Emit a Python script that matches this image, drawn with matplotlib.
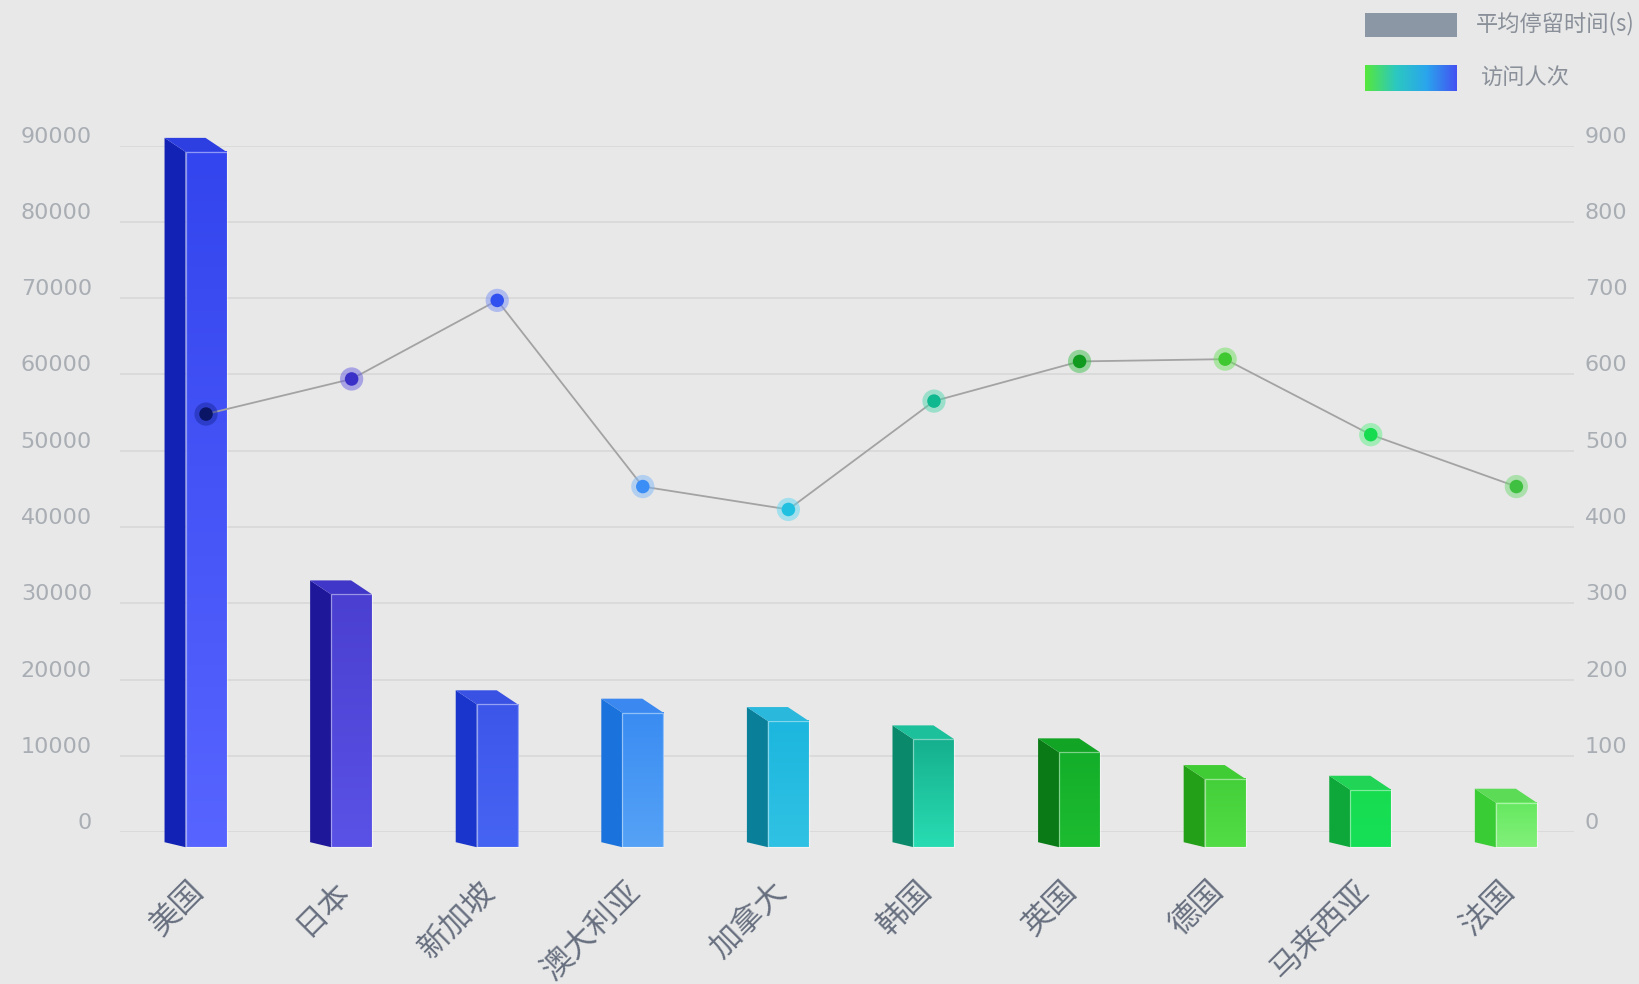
import matplotlib
matplotlib.use('Agg')
import matplotlib.pyplot as plt
import matplotlib.transforms as mtransforms
import numpy as np
from matplotlib.colors import to_rgb, LinearSegmentedColormap
from matplotlib.patches import Polygon, Rectangle

plt.rcParams['font.family'] = ['Noto Sans CJK SC', 'DejaVu Sans']

# data
countries = ['美国', '日本', '新加坡', '澳大利亚', '加拿大', '韩国', '英国', '德国', '马来西亚', '法国']
visits = [91000, 33000, 18600, 17500, 16400, 14000, 12300, 8800, 7400, 5700]
stay_time = [548, 594, 697, 453, 423, 565, 617, 620, 521, 453]
left_ticks = list(range(0, 90001, 10000))
right_ticks = list(range(0, 901, 100))

# per-bar colours
front_top = ['#3345ee', '#4a3fd0', '#3d56ea', '#3a8cf2', '#1cb6de',
             '#16b08e', '#14ae2a', '#44d03a', '#18dc50', '#66e860']
front_bottom = ['#5764ff', '#5a52e6', '#4664f4', '#55a2f6', '#30c2e4',
                '#28dcb2', '#1cbc30', '#52dc46', '#16e058', '#82f07a']
side_colors = ['#1222b4', '#1f1799', '#1a35cc', '#1a72dc', '#0a7f9a',
               '#0a8a6a', '#0a7a16', '#24a018', '#0ea83a', '#3acc34']
cap_colors = ['#2e3fe2', '#4036c8', '#3a52e4', '#3a88f0', '#2ab8dc',
              '#1cc09a', '#12a424', '#40cc34', '#22d456', '#5cdc56']
dot_colors = ['#0a1565', '#3a30c8', '#3050f0', '#3a8ef5', '#20c0e0',
              '#10b890', '#109a20', '#40c830', '#18dc50', '#40c040']
halo_colors = ['#1a2aa0', '#6a60e0', '#7a90f5', '#80b8f8', '#60d8f0',
               '#50d8b0', '#40c050', '#70e060', '#60ee88', '#70d870']

W, H = 1640, 984
BG = '#e8e8e8'
fig = plt.figure(figsize=(W / 100, H / 100), dpi=100, facecolor=BG)

# axes area in pixels: x 120..1574, y(top) 145.5..832.2
ax_l, ax_r, ax_t, ax_b = 120, 1574, 145.5, 832.2
ax = fig.add_axes([ax_l / W, 1 - ax_b / H, (ax_r - ax_l) / W, (ax_b - ax_t) / H])
ax.set_facecolor('none')
for s in ax.spines.values():
    s.set_visible(False)

x = np.arange(len(countries))
xlim = (-0.591, 9.396)
ylim = (0, 90000)
ax.set_xlim(*xlim)
ax.set_ylim(*ylim)
ax.set_yticks(left_ticks)
ax.set_xticks([])
ax.tick_params(axis='y', length=0, labelleft=False)
ax.grid(axis='y', color='#d6d6d6', linewidth=1.1)
ax.set_axisbelow(True)

# pixel -> data conversions
px_x = (xlim[1] - xlim[0]) / (ax_r - ax_l)
px_y = (ylim[1] - ylim[0]) / (ax_b - ax_t)
bar_w = 41 * px_x
depth_x = 21 * px_x
depth_y = 14 * px_y
front_base = -15 * px_y
back_base = -10 * px_y

for i, v in enumerate(visits):
    xl = x[i] - bar_w / 2
    xr = x[i] + bar_w / 2
    side = Polygon([(xl - depth_x, back_base), (xl - depth_x, v),
                    (xl, v - depth_y), (xl, front_base)],
                   closed=True, facecolor=side_colors[i], edgecolor='none',
                   clip_on=False, zorder=3)
    ax.add_patch(side)
    cap = Polygon([(xl - depth_x, v), (xr - depth_x, v),
                   (xr, v - depth_y), (xl, v - depth_y)],
                  closed=True, facecolor=cap_colors[i], edgecolor='none',
                  clip_on=False, zorder=3)
    ax.add_patch(cap)
    c0 = np.array(to_rgb(front_top[i]))
    c1 = np.array(to_rgb(front_bottom[i]))
    t = np.linspace(0, 1, 64)[:, None]
    grad = (c0 * (1 - t) + c1 * t)[:, None, :]
    im = ax.imshow(grad, extent=[xl, xr, front_base, v - depth_y],
                   origin='upper', aspect='auto', interpolation='bilinear',
                   zorder=3)
    im.set_clip_on(False)
    edge = Rectangle((xl, front_base), bar_w, v - depth_y - front_base,
                     facecolor='none', edgecolor=(1, 1, 1, 0.45),
                     linewidth=0.9, clip_on=False, zorder=3.5)
    ax.add_patch(edge)

ax.set_xlim(*xlim)
ax.set_ylim(*ylim)
ax.set_aspect('auto')

# left tick labels
tr_left = ax.get_yaxis_transform() + mtransforms.ScaledTranslation(-0.28, 0.09, fig.dpi_scale_trans)
for v in left_ticks:
    ax.text(0, v, str(v), transform=tr_left, ha='right', va='center',
            fontsize=16, color='#a9aeb4', family='DejaVu Sans')

# category labels
tr_cat = (mtransforms.blended_transform_factory(ax.transData, ax.transAxes)
          + mtransforms.ScaledTranslation(-0.07, -0.54, fig.dpi_scale_trans))
for i, name in enumerate(countries):
    ax.text(x[i], 0, name, transform=tr_cat, rotation=45, rotation_mode='anchor',
            ha='right', va='center', fontsize=22.5, color='#687080')

# line on the secondary axis
ax2 = ax.twinx()
ax2.set_ylim(0, 900)
ax2.set_xlim(*xlim)
ax2.set_facecolor('none')
for s in ax2.spines.values():
    s.set_visible(False)
ax2.set_yticks([])
ax2.plot(x, stay_time, color='#a3a3a3', linewidth=1.3, zorder=4)
ax2.scatter(x, stay_time, s=280, c=halo_colors, alpha=0.5, edgecolors='none', zorder=5)
ax2.scatter(x, stay_time, s=95, c=dot_colors, edgecolors='none', zorder=6)

tr_right = ax2.get_yaxis_transform() + mtransforms.ScaledTranslation(0.11, 0.09, fig.dpi_scale_trans)
for v in right_ticks:
    ax2.text(1, v, str(v), transform=tr_right, ha='left', va='center',
             fontsize=16, color='#a9aeb4', family='DejaVu Sans')

# legend
lg = fig.add_axes([0, 0, 1, 1])
lg.set_xlim(0, W)
lg.set_ylim(H, 0)
lg.axis('off')
lg.add_patch(Rectangle((1365, 13), 92, 24, facecolor='#8b97a5', edgecolor='none'))
cmap = LinearSegmentedColormap.from_list('lg', ['#56e83c', '#2cc8c0', '#2aa6ec', '#4452f2'])
lg.imshow(np.linspace(0, 1, 128)[None, :], cmap=cmap, extent=[1365, 1457, 91, 65],
          aspect='auto', interpolation='bilinear')
lg.set_xlim(0, W)
lg.set_ylim(H, 0)
lg.text(1476, 24, '平均停留时间(s)', fontsize=16, color='#8a9099', va='center', ha='left')
lg.text(1481, 77, '访问人次', fontsize=16, color='#8a9099', va='center', ha='left')

fig.savefig('out.png', dpi=100, facecolor=BG)
